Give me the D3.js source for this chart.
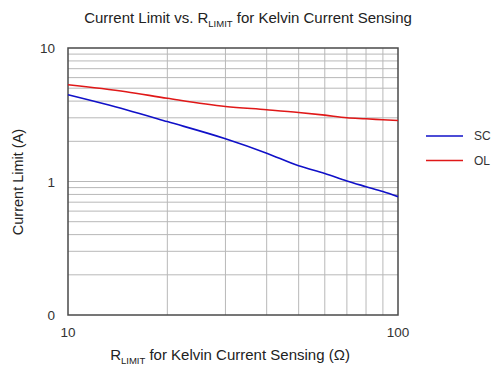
<!DOCTYPE html>
<html><head><meta charset="utf-8">
<script src="https://cdn.jsdelivr.net/npm/d3@7"></script>
<style>body{margin:0;background:#fff;} svg{display:block;font-family:"Liberation Sans",Arial,sans-serif;}</style>
</head><body>
<svg id="c" width="504" height="381"></svg>
<script>
const rLimit = [10, 15, 20, 30, 40, 50, 60, 70, 80, 90, 100];
const scValues = [4.46, 3.45, 2.81, 2.09, 1.63, 1.31, 1.15, 1.01, 0.915, 0.84, 0.77];
const olValues = [5.3, 4.7, 4.2, 3.65, 3.45, 3.29, 3.14, 3.0, 2.95, 2.9, 2.86];
const xTickLabels = [10, 100];
const yTickValues = [0.1, 1, 10];
const yTickLabels = ["0", "1", "10"];
const seriesNames = ["SC", "OL"];
const seriesColors = ["#1010c8", "#e01818"];

const svg = d3.select("#c");
const L = 68, R = 398, T = 48, B = 315;
const x = d3.scaleLog().domain([10, 100]).range([L, R]);
const y = d3.scaleLog().domain([0.1, 10]).range([B, T]);

// grid
const xGrid = [];
for (let v = 20; v < 100; v += 10) xGrid.push(v);
const yGrid = [];
[0.1, 1].forEach(d => { for (let k = 2; k <= 9; k++) yGrid.push(d * k); });
yGrid.push(1);
svg.append("g").selectAll("line").data(xGrid).join("line")
  .attr("x1", d => x(d)).attr("x2", d => x(d)).attr("y1", T).attr("y2", B)
  .attr("stroke", "#b8b8b8").attr("stroke-width", 1);
svg.append("g").selectAll("line").data(yGrid).join("line")
  .attr("x1", L).attr("x2", R).attr("y1", d => y(d)).attr("y2", d => y(d))
  .attr("stroke", "#b8b8b8").attr("stroke-width", 1);

// frame
svg.append("rect").attr("x", L).attr("y", T).attr("width", R - L).attr("height", B - T)
  .attr("fill", "none").attr("stroke", "#4a4a4a").attr("stroke-width", 1.5);

// lines
const line = d3.line().x((d, i) => x(rLimit[i])).y(d => y(d)).curve(d3.curveMonotoneX);
[scValues, olValues].forEach((vals, i) => {
  svg.append("path").datum(vals).attr("d", line).attr("fill", "none")
    .attr("stroke", seriesColors[i]).attr("stroke-width", 1.6);
});

// tick labels
svg.append("g").selectAll("text").data(xTickLabels).join("text")
  .attr("x", d => x(d)).attr("y", 337).attr("text-anchor", "middle")
  .attr("font-size", 13.5).attr("fill", "#333").text(d => d);
svg.append("g").selectAll("text").data(yTickValues).join("text")
  .attr("x", 55).attr("y", d => y(d) + 5).attr("text-anchor", "end")
  .attr("font-size", 13.5).attr("fill", "#333").text((d, i) => yTickLabels[i]);

// title
const title = svg.append("text").attr("x", 248).attr("y", 23).attr("text-anchor", "middle")
  .attr("font-size", 15).attr("fill", "#222");
title.append("tspan").text("Current Limit vs. R");
title.append("tspan").attr("font-size", 9.5).attr("dy", 4).text("LIMIT");
title.append("tspan").attr("dy", -4).text(" for Kelvin Current Sensing");

// x axis label
const xl = svg.append("text").attr("x", 230).attr("y", 360).attr("text-anchor", "middle")
  .attr("font-size", 15).attr("fill", "#222");
xl.append("tspan").text("R");
xl.append("tspan").attr("font-size", 9.5).attr("dy", 4).text("LIMIT");
xl.append("tspan").attr("dy", -4).text(" for Kelvin Current Sensing (Ω)");

// y axis label
svg.append("text").attr("transform", "translate(23,182) rotate(-90)").attr("text-anchor", "middle")
  .attr("font-size", 14.5).attr("fill", "#222").text("Current Limit (A)");

// legend
seriesNames.forEach((n, i) => {
  const ly = 136 + i * 24.5;
  svg.append("line").attr("x1", 426).attr("x2", 463).attr("y1", ly).attr("y2", ly)
    .attr("stroke", seriesColors[i]).attr("stroke-width", 1.6);
  svg.append("text").attr("x", 474).attr("y", ly + 4).attr("font-size", 12)
    .attr("fill", "#333").text(n);
});
</script>
</body></html>
